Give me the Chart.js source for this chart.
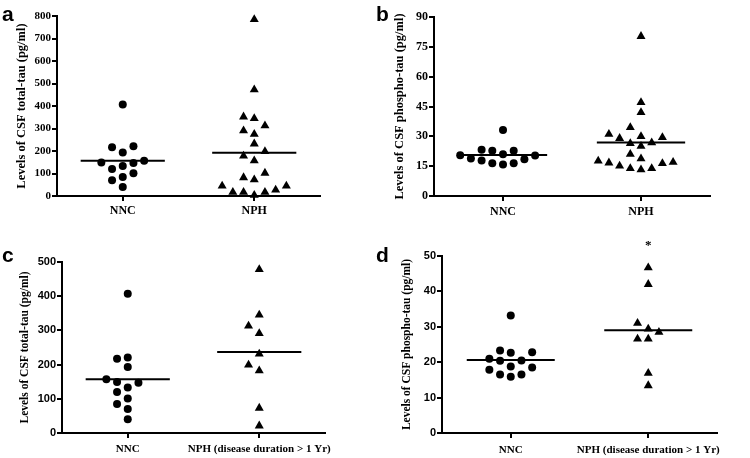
<!DOCTYPE html>
<html>
<head>
<meta charset="utf-8">
<script src="https://cdn.jsdelivr.net/npm/chart.js@4.4.1/dist/chart.umd.min.js"></script>
<style>
  body { margin: 0; background: #fff; }
  #wrap { position: relative; width: 750px; height: 458px; overflow: hidden; }
  canvas { position: absolute; }
  .tag { position: absolute; font: bold 21px 'Liberation Sans', Arial, sans-serif; line-height: 21px; color: #000; }
</style>
</head>
<body>
<div id="wrap">
  <canvas id="ca" width="375" height="229" style="left:0;top:0"></canvas>
  <canvas id="cb" width="375" height="229" style="left:375px;top:0"></canvas>
  <canvas id="cc" width="375" height="229" style="left:0;top:229px"></canvas>
  <canvas id="cd" width="375" height="229" style="left:375px;top:229px"></canvas>
  <div class="tag" style="left:2px;top:3px">a</div>
  <div class="tag" style="left:376px;top:3px">b</div>
  <div class="tag" style="left:2px;top:244px">c</div>
  <div class="tag" style="left:376px;top:244px">d</div>
</div>
<script>
const groupsAll = ['NNC', 'NPH'];
const groupsLong = ['NNC', 'NPH (disease duration > 1 Yr)'];

// total-tau, pg/ml
const nncTotalTau = [407, 221, 217, 193, 157, 147, 149, 133, 120, 101, 85, 70, 40];
const nphTotalTau = [785, 473, 352, 345, 313, 290, 275, 232, 198, 178, 157, 102, 82, 73, 45, 45, 27, 17, 4, 17, 17];
const nphLongTotalTau = [478, 345, 313, 291, 231, 199, 182, 73, 21];

// phospho-tau, pg/ml
const nncPhosphoTau = [33.2, 22.7, 23.3, 22.8, 21.0, 20.5, 20.4, 18.5, 18.8, 17.9, 16.5, 15.9, 16.5];
const nphPhosphoTau = [80.3, 47.0, 42.0, 34.5, 31.1, 29.5, 30.0, 29.0, 26.8, 26.4, 25.1, 21.0, 18.8, 17.6, 17.0, 16.4, 16.7, 13.9, 13.2, 13.9, 15.1];
const nphLongPhosphoTau = [46.7, 42.0, 31.0, 28.5, 29.4, 26.6, 26.6, 16.9, 13.4];

const yTicksA = [0, 100, 200, 300, 400, 500, 600, 700, 800];
const yTicksB = [0, 15, 30, 45, 60, 75, 90];
const yTicksC = [0, 100, 200, 300, 400, 500];
const yTicksD = [0, 10, 20, 30, 40, 50];

const signifD = ['', '*'];

const STEP = 10.7;   // px between swarm columns
const GAP = 9.5;     // min distance between markers
const MEAN_HALF = 0.32;

const serif = "'Liberation Serif', 'Times New Roman', serif";
const sans = "'Liberation Sans', Arial, sans-serif";

const panels = [
  { id: 'ca', groups: groupsAll, series: [nncTotalTau, nphTotalTau], yTicks: yTicksA,
    title: 'Levels of CSF total-tau (pg/ml)', box: { l: 57, r: 320, t: 16, b: 196 },
    tickFont: { family: serif, size: 11, weight: 'bold' }, xFont: { family: serif, size: 12, weight: 'bold' },
    titleSize: 12.5, titlePad: 14.5, xPad: 3 },
  { id: 'cb', groups: groupsAll, series: [nncPhosphoTau, nphPhosphoTau], yTicks: yTicksB,
    title: 'Levels of CSF phospho-tau (pg/ml)', box: { l: 59, r: 335, t: 17, b: 196 },
    tickFont: { family: serif, size: 12, weight: 'bold' }, xFont: { family: serif, size: 12, weight: 'bold' },
    titleSize: 12.5, titlePad: 17.5, xPad: 4 },
  { id: 'cc', groups: groupsLong, series: [nncTotalTau, nphLongTotalTau], yTicks: yTicksC,
    title: 'Levels of CSF total-tau (pg/ml)', box: { l: 62, r: 325, t: 33, b: 204 },
    tickFont: { family: sans, size: 11, weight: 'bold' }, xFont: { family: serif, size: 11, weight: 'bold' },
    titleSize: 11.5, titlePad: 18, xPad: 5 },
  { id: 'cd', groups: groupsLong, series: [nncPhosphoTau, nphLongPhosphoTau], yTicks: yTicksD,
    title: 'Levels of CSF phospho-tau (pg/ml)', box: { l: 67, r: 342, t: 27, b: 204 },
    tickFont: { family: sans, size: 11, weight: 'bold' }, xFont: { family: serif, size: 11, weight: 'bold' },
    titleSize: 11.5, titlePad: 25, xPad: 6, signif: signifD }
];

function mean(arr) {
  return arr.reduce((s, v) => s + v, 0) / arr.length;
}

// greedy dot-plot layout: each point goes to the nearest free column
function spread(chart, values, group) {
  const xs = chart.scales.x, ys = chart.scales.y;
  const cx = xs.getPixelForValue(group + 1);
  const order = values.map((v, i) => i).sort((i, j) => values[i] - values[j]);
  const placed = [];
  const out = new Array(values.length);
  for (const i of order) {
    const py = ys.getPixelForValue(values[i]);
    let k = 0, col;
    while (true) {
      const cands = k === 0 ? [0] : [-k, k];
      col = cands.find(c => placed.every(p => Math.hypot(p.x - c * STEP, p.y - py) >= GAP));
      if (col !== undefined) break;
      k++;
    }
    placed.push({ x: col * STEP, y: py });
    out[i] = { x: xs.getValueForPixel(cx + col * STEP), y: values[i] };
  }
  return out;
}

const signifPlugin = {
  id: 'signif',
  afterDraw(chart, args, opts) {
    if (!opts.marks) return;
    const { ctx, scales: { x, y } } = chart;
    ctx.save();
    ctx.fillStyle = '#000';
    ctx.font = 'bold 13px ' + serif;
    ctx.textAlign = 'center';
    ctx.textBaseline = 'alphabetic';
    opts.marks.forEach((m, i) => {
      if (!m) return;
      ctx.fillText(m, x.getPixelForValue(i + 1), y.getPixelForValue(y.max) - 7);
    });
    ctx.restore();
  }
};

function makePanel(p) {
  const H = 229, W = 375;
  const step = p.yTicks[1] - p.yTicks[0];
  const datasets = [];
  p.series.forEach((vals, g) => {
    datasets.push({
      type: 'scatter',
      data: vals.map(v => ({ x: g + 1, y: v })),
      pointStyle: g === 0 ? 'circle' : 'triangle',
      pointRadius: g === 0 ? 4 : 5.2,
      backgroundColor: '#000',
      borderWidth: 0,
      clip: false
    });
    const m = mean(vals);
    datasets.push({
      type: 'line',
      data: [{ x: g + 1 - MEAN_HALF, y: m }, { x: g + 1 + MEAN_HALF, y: m }],
      borderColor: '#000',
      borderWidth: 2,
      pointRadius: 0,
      fill: false
    });
  });

  const chart = new Chart(document.getElementById(p.id), {
    type: 'scatter',
    data: { datasets },
    plugins: [signifPlugin],
    options: {
      responsive: false,
      animation: false,
      devicePixelRatio: 1,
      layout: { padding: { left: 0, top: p.box.t, right: W - p.box.r, bottom: 0 } },
      plugins: {
        legend: { display: false },
        tooltip: { enabled: false },
        signif: { marks: p.signif }
      },
      scales: {
        x: {
          type: 'linear',
          min: 0.5,
          max: 2.5,
          afterFit: s => { s.height = H - p.box.b; },
          afterBuildTicks: s => { s.ticks = p.groups.map((g, i) => ({ value: i + 1 })); },
          grid: { drawOnChartArea: false, drawTicks: true, tickLength: 5, color: '#000', lineWidth: 2 },
          border: { display: true, color: '#000', width: 2 },
          ticks: {
            autoSkip: false, maxRotation: 0, minRotation: 0,
            padding: p.xPad, color: '#000', font: p.xFont,
            callback: v => p.groups[Math.round(v) - 1]
          }
        },
        y: {
          min: p.yTicks[0],
          max: p.yTicks[p.yTicks.length - 1],
          afterFit: s => { s.width = p.box.l; },
          grid: { drawOnChartArea: false, drawTicks: true, tickLength: 5, color: '#000', lineWidth: 2 },
          border: { display: true, color: '#000', width: 2 },
          ticks: { stepSize: step, autoSkip: false, padding: 1, color: '#000', font: p.tickFont },
          title: {
            display: true,
            text: p.title,
            color: '#000',
            font: { family: serif, size: p.titleSize, weight: 'bold' },
            padding: { top: p.titlePad, bottom: 0 }
          }
        }
      }
    }
  });

  p.series.forEach((vals, g) => {
    chart.data.datasets[g * 2].data = spread(chart, vals, g);
  });
  chart.update('none');
}

panels.forEach(makePanel);
</script>
</body>
</html>
